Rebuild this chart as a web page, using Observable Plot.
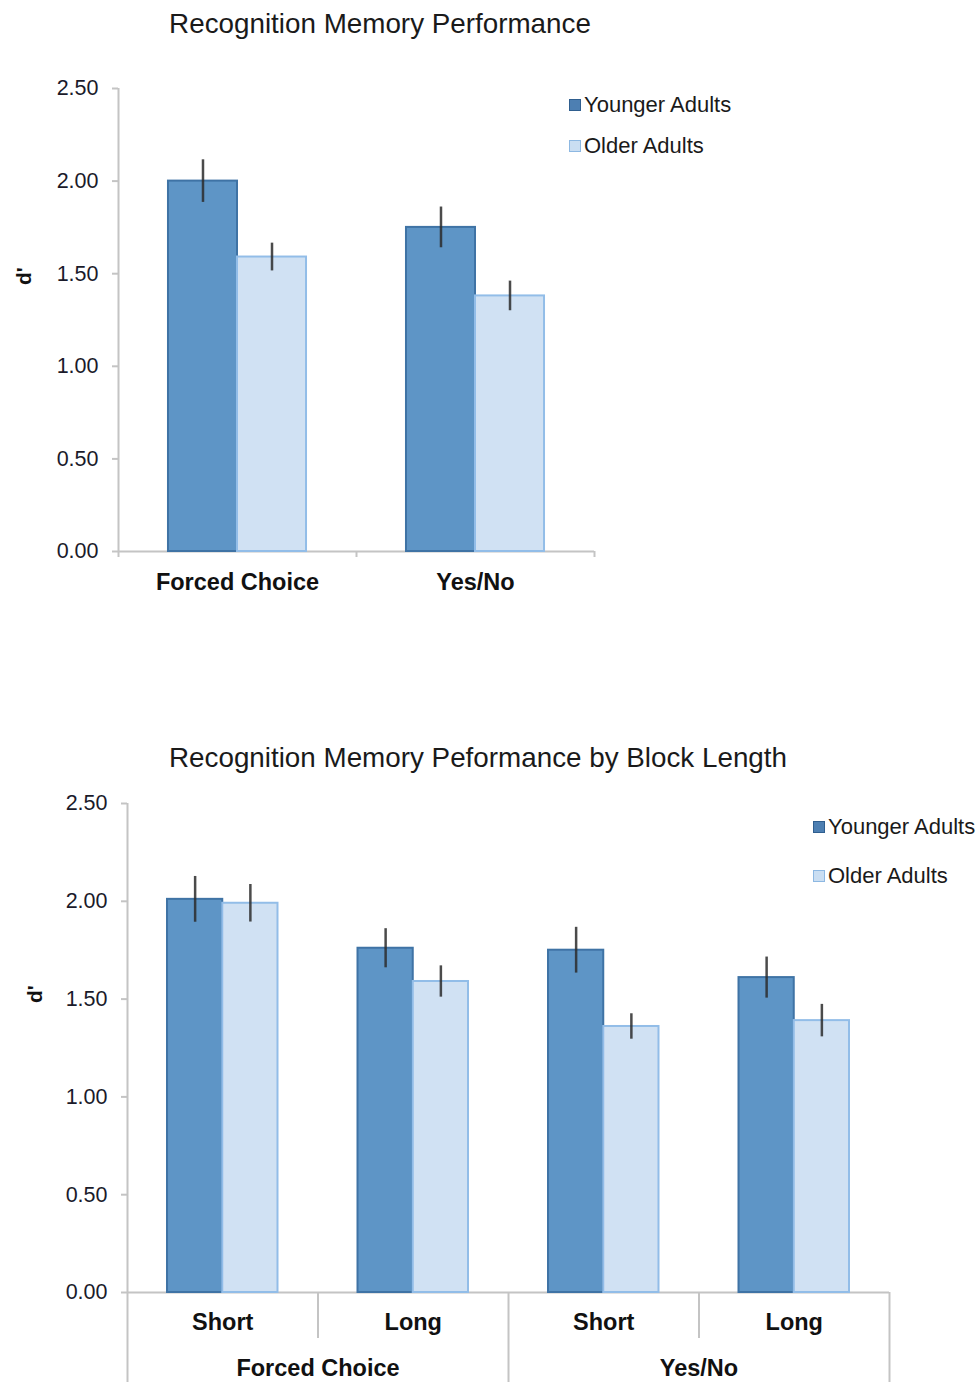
<!DOCTYPE html>
<html>
<head>
<meta charset="utf-8">
<script src="https://cdn.jsdelivr.net/npm/d3@7"></script>
<script src="https://cdn.jsdelivr.net/npm/@observablehq/plot@0.6"></script>
<style>
  html, body { margin: 0; padding: 0; background: #fff; }
  #page { position: relative; width: 980px; height: 1382px; overflow: hidden; font-family: "Liberation Sans", Arial, sans-serif; color: #1a1a1a; }
  .abs { position: absolute; }
  .title { font-size: 27.8px; white-space: nowrap; transform: translate(-50%, -50%); line-height: 1; }
  .leg { font-size: 22px; white-space: nowrap; line-height: 1; transform: translateY(-50%); display: flex; align-items: center; }
  .sw { width: 10px; height: 10px; border: 1.5px solid; margin-right: 3px; }
  svg { position: absolute; left: 0; }
</style>
</head>
<body>
<div id="page">
  <div class="abs title" style="left:380px; top:24px;">Recognition Memory Performance</div>
  <div class="abs title" style="left:478px; top:758px;">Recognition Memory Peformance by Block Length</div>
  <div class="abs leg" style="left:569px; top:105px;"><span class="sw" style="background:#4d7fb2;border-color:#2f5e8f"></span>Younger Adults</div>
  <div class="abs leg" style="left:569px; top:146px;"><span class="sw" style="background:#cadef2;border-color:#8db8e2"></span>Older Adults</div>
  <div class="abs leg" style="left:813px; top:827px;"><span class="sw" style="background:#4d7fb2;border-color:#2f5e8f"></span>Younger Adults</div>
  <div class="abs leg" style="left:813px; top:876px;"><span class="sw" style="background:#cadef2;border-color:#8db8e2"></span>Older Adults</div>
</div>
<script>
// ---- Data: chart 1 ----
const tests = ["Forced Choice", "Yes/No"];
const groups = ["Younger Adults", "Older Adults"];
const younger1 = [2.00, 1.75];
const younger1Err = [0.115, 0.11];
const older1 = [1.59, 1.38];
const older1Err = [0.075, 0.08];

// ---- Data: chart 2 ----
const blocks = ["Short", "Long", "Short", "Long"];
const blockTests = ["Forced Choice", "Forced Choice", "Yes/No", "Yes/No"];
const younger2 = [2.01, 1.76, 1.75, 1.61];
const younger2Err = [0.117, 0.10, 0.117, 0.105];
const older2 = [1.99, 1.59, 1.36, 1.39];
const older2Err = [0.096, 0.08, 0.065, 0.083];

const yTicks = [0, 0.5, 1.0, 1.5, 2.0, 2.5];

// styles
const C = {
  youngFill: "#5e95c6", youngStroke: "#3f73a5",
  oldFill: "#d0e1f3", oldStroke: "#92bde8",
  axis: "#c4c4c4", err: "#2b2b2b"
};
const GAP = 0.21; // category gap fraction on each side

function rowsFor(yv, ye, ov, oe) {
  const rows = [];
  yv.forEach((v, i) => rows.push({cat: i, group: groups[0], value: v, err: ye[i], x1: i + GAP, x2: i + 0.5}));
  ov.forEach((v, i) => rows.push({cat: i, group: groups[1], value: v, err: oe[i], x1: i + 0.5, x2: i + 1 - GAP}));
  return rows;
}

function barMarks(rows) {
  return [
    Plot.rectY(rows.filter(d => d.group === groups[0]), {x1: "x1", x2: "x2", y: "value", fill: C.youngFill, stroke: C.youngStroke, strokeWidth: 2}),
    Plot.rectY(rows.filter(d => d.group === groups[1]), {x1: "x1", x2: "x2", y: "value", fill: C.oldFill, stroke: C.oldStroke, strokeWidth: 2}),
    Plot.ruleX(rows, {x: d => (d.x1 + d.x2) / 2, y1: d => d.value - d.err, y2: d => d.value + d.err, stroke: C.err, strokeWidth: 2.5, strokeOpacity: 0.85})
  ];
}

function yAxisMarks(dx, dy) {
  return [
    Plot.ruleX([0], {y1: 0, y2: 2.5, stroke: C.axis, strokeWidth: 2}),
    Plot.axisY({ticks: yTicks, tickFormat: d3.format(".2f"), label: null, tickSize: 6, tickPadding: 14, stroke: C.axis, strokeWidth: 2, fill: "#1a1a2a", fontSize: 21.5}),
    Plot.ruleY([0], {stroke: C.axis, strokeWidth: 2}),
    Plot.text(["d'"], {frameAnchor: "left", dx, dy, rotate: -90, fontWeight: "bold", fontSize: 21, fill: "#111"})
  ];
}

// ---- Chart 1 ----
const rows1 = rowsFor(younger1, younger1Err, older1, older1Err);
const chart1 = Plot.plot({
  width: 980, height: 640,
  marginLeft: 118, marginRight: 386, marginTop: 88, marginBottom: 89,
  style: {fontFamily: "Liberation Sans, Arial, sans-serif", overflow: "visible"},
  x: {domain: [0, tests.length], axis: null},
  y: {domain: [0, 2.5], axis: null},
  marks: [
    ...yAxisMarks(-94, -35),
    Plot.ruleX(d3.range(tests.length + 1), {x: d => d, y1: 0, y2: 0, insetBottom: -6, stroke: C.axis, strokeWidth: 2}),
    ...barMarks(rows1),
    Plot.text(tests, {x: (d, i) => i + 0.5, y: 0, dy: 31, fontWeight: "bold", fontSize: 23.5, fill: "#111"})
  ]
});
chart1.style.top = "0px";
document.getElementById("page").appendChild(chart1);

// ---- Chart 2 ----
const rows2 = rowsFor(younger2, younger2Err, older2, older2Err);
const testGroups = tests.map((t, j) => ({test: t, mid: blockTests.indexOf(t) + blockTests.filter(b => b === t).length / 2}));
const majorSeps = [0, ...tests.map(t => blockTests.lastIndexOf(t) + 1)];
const minorSeps = d3.range(1, blocks.length).filter(i => !majorSeps.includes(i));
const chart2 = Plot.plot({
  width: 980, height: 682,
  marginLeft: 127, marginRight: 91, marginTop: 103, marginBottom: 90,
  style: {fontFamily: "Liberation Sans, Arial, sans-serif", overflow: "visible"},
  x: {domain: [0, blocks.length], axis: null},
  y: {domain: [0, 2.5], axis: null},
  marks: [
    ...yAxisMarks(-92, -45),
    Plot.ruleX(majorSeps, {x: d => d, y1: 0, y2: 0, insetBottom: -90, stroke: C.axis, strokeWidth: 2}),
    Plot.ruleX(minorSeps, {x: d => d, y1: 0, y2: 0, insetBottom: -46, stroke: C.axis, strokeWidth: 2}),
    ...barMarks(rows2),
    Plot.text(blocks, {x: (d, i) => i + 0.5, y: 0, dy: 30, fontWeight: "bold", fontSize: 23.5, fill: "#111"}),
    Plot.text(testGroups, {x: "mid", y: 0, text: "test", dy: 76, fontWeight: "bold", fontSize: 23.5, fill: "#111"})
  ]
});
chart2.style.top = "700px";
document.getElementById("page").appendChild(chart2);
</script>
</body>
</html>
